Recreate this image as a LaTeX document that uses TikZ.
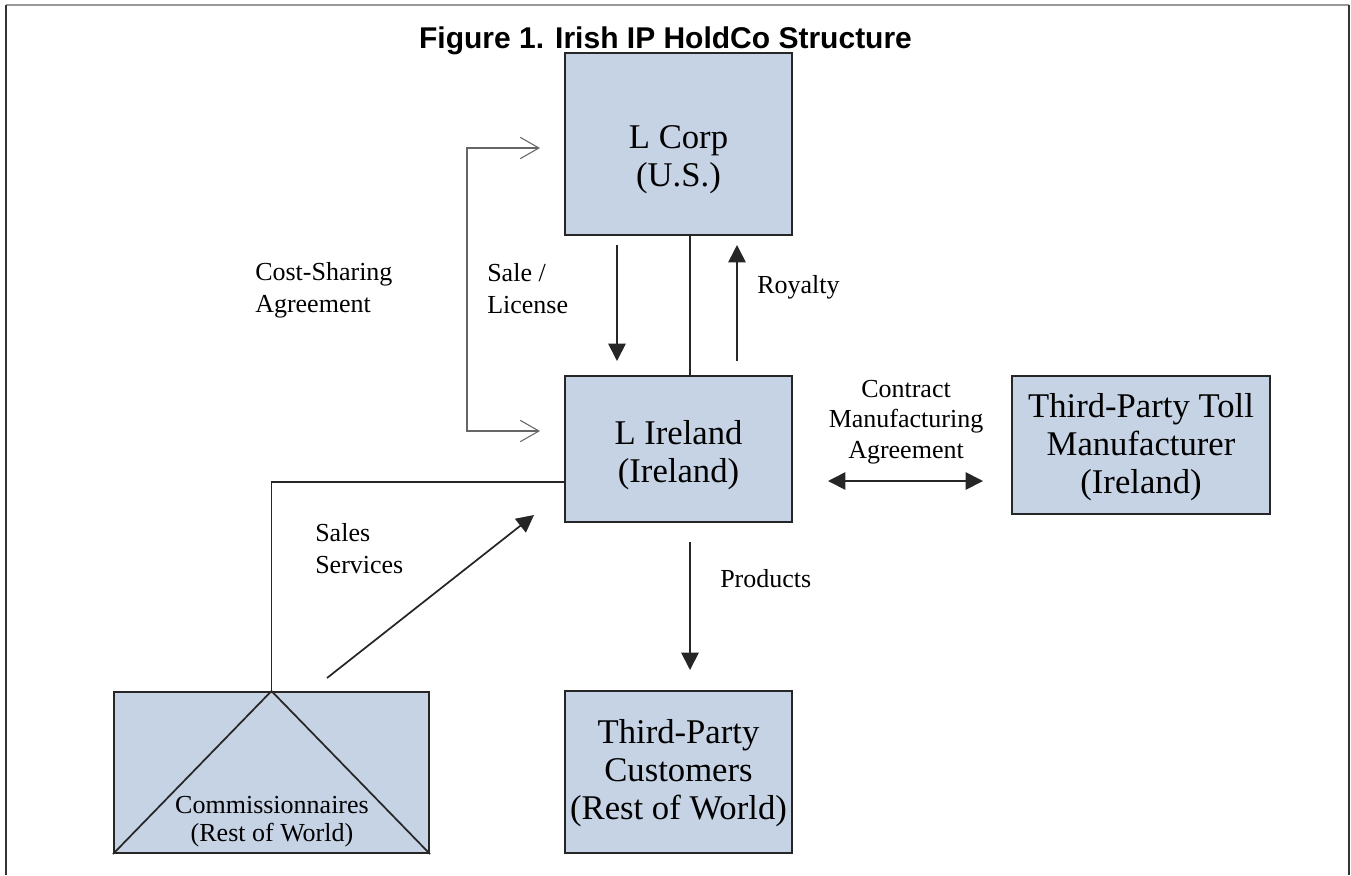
\documentclass[tikz,border=0pt]{standalone}
\usepackage{fontspec}
\setmainfont{Liberation Serif}
\newfontfamily\titlefont{Liberation Sans}
\usetikzlibrary{arrows.meta}
\definecolor{boxfill}{RGB}{198,211,229}
\begin{document}
\begin{tikzpicture}[x=0.75pt,y=-0.75pt,
  ent/.style={draw=black!85, line width=1.5pt, fill=boxfill, inner sep=0pt},
  boxtext/.style={inner sep=0pt, align=center, font=\fontsize{26}{28.5}\selectfont},
  lbl/.style={inner sep=0pt, align=left, font=\fontsize{19.5}{24}\selectfont},
  conn/.style={draw=black!85, line width=1.3pt},
  arr/.style={conn, -{Triangle[length=13pt,width=13pt]}},
  darr/.style={conn, {Triangle[length=13pt,width=13pt]}-{Triangle[length=13pt,width=13pt]}},
  brk/.style={draw=black!60, line width=0.8pt, {Straight Barb[length=14pt,width=16pt]}-{Straight Barb[length=14pt,width=16pt]}}
]
\useasboundingbox (0,0) rectangle (1351,875);
% frame
\draw[black!40, line width=1.5pt] (6,5) -- (1349,5);
\draw[black!80, line width=1.5pt] (6,5) -- (6,875);
\draw[black!80, line width=1.5pt] (1349,5) -- (1349,875);
% title
\node[inner sep=0pt, anchor=base, font=\titlefont\bfseries\fontsize{22.5}{26}\selectfont] (title) at (665.5,48) {Figure 1. Irish IP HoldCo Structure};
% boxes
\node[ent, minimum width={227*0.75pt}, minimum height={182*0.75pt}] (lcorp) at (678.5,144) {};
\node[ent, minimum width={227*0.75pt}, minimum height={146*0.75pt}] (lirl) at (678.5,449) {};
\node[ent, minimum width={258*0.75pt}, minimum height={138*0.75pt}] (toll) at (1141,445) {};
\node[ent, minimum width={227*0.75pt}, minimum height={162*0.75pt}] (cust) at (678.5,772) {};
\node[ent, minimum width={315*0.75pt}, minimum height={161*0.75pt}] (comm) at (271.5,772.5) {};
\draw[conn] (comm.north) -- (comm.south west);
\draw[conn] (comm.north) -- (comm.south east);
% box texts
\node[boxtext] (tlcorp) at (678.5,160) {L Corp\\(U.S.)};
\node[boxtext] (tlirl) at (678.5,455) {L Ireland\\(Ireland)};
\node[boxtext] (ttoll) at (1141,447) {Third-Party Toll\\Manufacturer\\(Ireland)};
\node[boxtext] (tcust) at (678.5,773) {Third-Party\\Customers\\(Rest of World)};
\node[inner sep=0pt, align=center, font=\fontsize{19.5}{21}\selectfont] (tcomm) at (272,822) {Commissionnaires\\(Rest of World)};
% labels
\node[lbl, anchor=west] (lcost) at (255,290) {Cost-Sharing\\Agreement};
\node[lbl, anchor=west] (lsale) at (487,289) {Sale /\\License};
\node[lbl, anchor=west] (lroy) at (757,287) {Royalty};
\node[lbl, align=center, font=\fontsize{19.5}{23}\selectfont] (lcma) at (906,422) {Contract\\Manufacturing\\Agreement};
\node[lbl, anchor=west] (lprod) at (720,579) {Products};
\node[lbl, anchor=west] (lsales) at (315,549) {Sales\\Services};
% coordinates
\coordinate (bt) at (540,148);
\coordinate (btl) at (467,148);
\coordinate (bbl) at (467,431);
\coordinate (bb) at (540,431);
\coordinate (slA) at (617,245);
\coordinate (slB) at (617,361);
\coordinate (mx) at (690,0);
\coordinate (rA) at (737,361);
\coordinate (rB) at (737,245);
\coordinate (cA) at (828,481);
\coordinate (cB) at (983,481);
\coordinate (pA) at (690,542);
\coordinate (pB) at (690,670);
\coordinate (sA) at (327,678);
\coordinate (sB) at (534,515);
\coordinate (cl) at (565,482);
% connectors
\draw[brk] (bt) -- (btl) -- (bbl) -- (bb);
\draw[arr] (slA) -- (slB);
\draw[conn] (lcorp.south -| mx) -- (lirl.north -| mx);
\draw[arr] (rA) -- (rB);
\draw[darr] (cA) -- (cB);
\draw[arr] (pA) -- (pB);
\draw[arr] (sA) -- (sB);
\draw[conn] (comm.north) |- (cl);
\end{tikzpicture}
\end{document}
